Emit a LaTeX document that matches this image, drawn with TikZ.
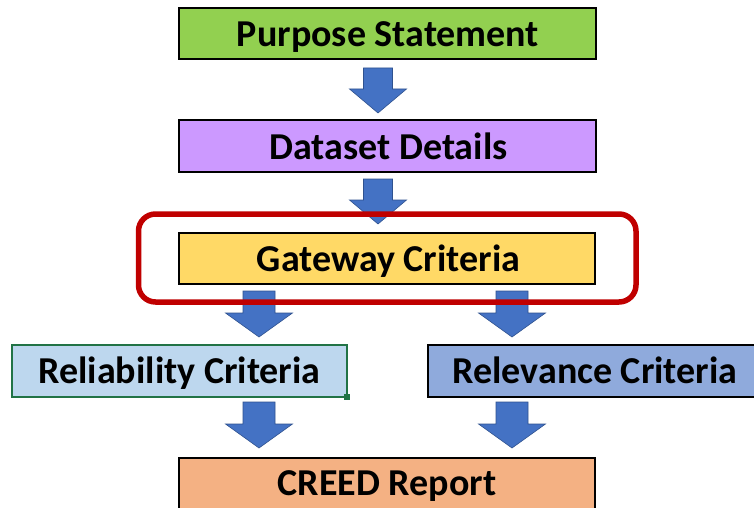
\documentclass[tikz,border=0pt]{standalone}
\usepackage{fontspec}
\setmainfont{Carlito}
\definecolor{pgreen}{HTML}{92D050}
\definecolor{ppurple}{HTML}{CC99FF}
\definecolor{pyellow}{HTML}{FFD966}
\definecolor{plblue}{HTML}{BDD7EE}
\definecolor{pmblue}{HTML}{8FAADC}
\definecolor{porange}{HTML}{F4B183}
\definecolor{parrow}{HTML}{4472C4}
\definecolor{parrowd}{HTML}{2F528F}
\definecolor{pred}{HTML}{C00000}
\definecolor{pgborder}{HTML}{217346}
\begin{document}
\begin{tikzpicture}[x=1pt,y=-1pt,
  box/.style={draw=black,line width=1.8pt},
  lbl/.style={anchor=base,inner sep=0pt,font=\bfseries\fontsize{38}{38}\selectfont},
  blk/.style={fill=parrow,draw=parrowd,line width=0.6pt,line join=miter}]
\useasboundingbox[fill=white] (0,0) rectangle (754,508);
% boxes
\path[box,fill=pgreen] (179,8) rectangle (596,59);
\node[lbl] (ps) at (388,47) {Purpose Statement};
\path[box,fill=ppurple] (179,120) rectangle (596,172);
\node[lbl] (dd) at (388.5,159) {Dataset Details};
\path[box,fill=pyellow] (179,233) rectangle (595,284);
\node[lbl] (gc) at (388.5,271.5) {Gateway Criteria};
\path[fill=plblue,draw=pgborder,line width=1.2pt] (12,345) rectangle (347,397);
\fill[pgborder] (344,394) rectangle (350,400);
\node[lbl] (rl) at (179.5,383) {Reliability Criteria};
\path[box,fill=pmblue] (428,345) rectangle (770,397);
\node[lbl] (rv) at (595,383) {Relevance Criteria};
\path[box,fill=porange] (179,458) rectangle (595,520);
\node[lbl] (cr) at (387,495) {CREED Report};
% block arrows
\newcommand\blockarr[7]{% name, cx, top, headstart, tip, shafthalf, headhalf
  \draw[blk] (#2-#6,#3) -- (#2+#6,#3) -- (#2+#6,#4) -- (#2+#7,#4) -- (#2,#5)
    coordinate (#1) -- (#2-#7,#4) -- (#2-#6,#4) -- cycle;}
\blockarr{a1}{378}{68}{89}{113}{14.5}{28.5}
\blockarr{a2}{378}{179}{200}{224}{14.5}{28.5}
\blockarr{a3}{259}{291}{313}{337}{16}{33.5}
\blockarr{a4}{512}{291}{313}{337}{16}{33.5}
\blockarr{a5}{259}{402}{424}{448}{16}{33.5}
\blockarr{a6}{512}{402}{424}{448}{16}{33.5}
% red highlight
\draw[pred,line width=5.5pt,rounded corners=17pt] (138.5,214) rectangle (636,302);
\end{tikzpicture}
\end{document}
